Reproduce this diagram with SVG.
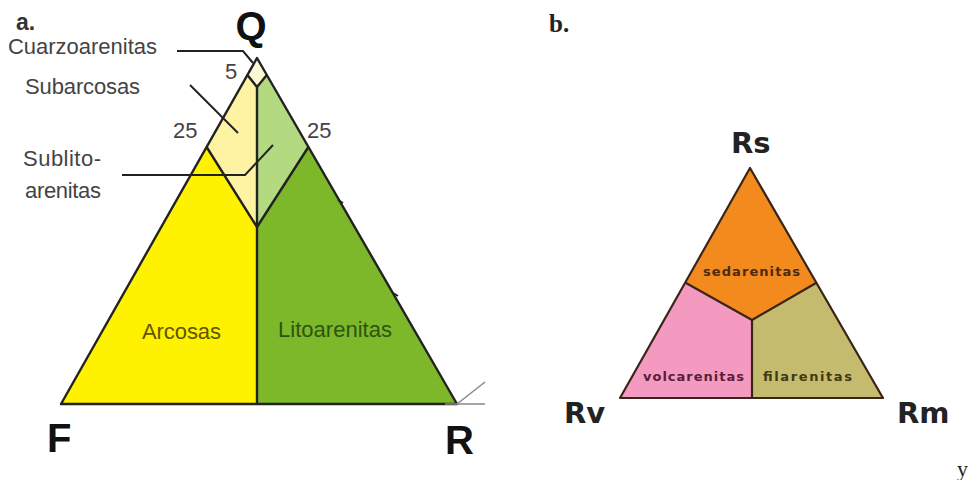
<svg xmlns="http://www.w3.org/2000/svg" width="971" height="480" viewBox="0 0 971 480">
<style>
.edge{stroke:#222;stroke-width:2.4;stroke-linejoin:round;fill:none}
.lbl{font-family:"Liberation Sans",Arial,sans-serif;font-size:22px;fill:#444}
.vert{font-family:"Liberation Sans",Arial,sans-serif;font-size:40px;font-weight:bold;fill:#111}
.lead{stroke:#222;stroke-width:2;fill:none}
.bv{font-family:"DejaVu Sans",sans-serif;font-size:29px;font-weight:bold;fill:#222}
.bin{font-family:"DejaVu Sans",sans-serif;font-size:13px;font-weight:bold;fill:#4a2a10}
.bedge{stroke:#3a2418;stroke-width:2.2;stroke-linejoin:round;fill:none}
</style>
<rect width="971" height="480" fill="#fff"/>

<g id="diagram-a">
  <g id="a-label"><text x="16" y="30" style="font-family:'Liberation Sans',Arial,sans-serif;font-size:23px;font-weight:bold;fill:#333">a.</text></g>
  <g id="arcosas">
    <polygon points="206.6,147 61,404 257,404 257,227" fill="#fff200"/>
    <text class="lbl" x="142" y="339" style="fill:#5f5500" textLength="79">Arcosas</text>
  </g>
  <g id="litoarenitas">
    <polygon points="308.4,147 457,404 257,404 257,227" fill="#7cb82a"/>
    <text class="lbl" x="278" y="337" style="fill:#2d5410" textLength="114">Litoarenitas</text>
  </g>
  <g id="subarcosas">
    <polygon points="247.4,75 206.6,147 257,227 257,87" fill="#fdf3a3"/>
    <text class="lbl" x="25" y="94" textLength="115">Subarcosas</text>
  </g>
  <g id="sublitoarenitas">
    <polygon points="266.8,75 308.4,147 257,227 257,87" fill="#b3da80"/>
    <text class="lbl" x="23" y="166" textLength="78">Sublito-</text>
    <text class="lbl" x="25" y="198" textLength="76">arenitas</text>
  </g>
  <g id="cuarzoarenitas">
    <polygon points="257,58 247.4,75 257,87 266.8,75" fill="#fcf8d4"/>
    <text class="lbl" x="8" y="54" textLength="149">Cuarzoarenitas</text>
  </g>
  <g id="a-lines">
    <polygon class="edge" points="61,404 257,58 457,404"/>
    <polyline class="edge" points="247.4,75 257,87 266.8,75"/>
    <polyline class="edge" points="206.6,147 257,227 308.4,147"/>
    <line class="edge" x1="257" y1="87" x2="257" y2="404"/>
    <polyline class="lead" points="445,404 485,404" style="stroke:#888;stroke-width:1.5"/>
    <line x1="457" y1="404" x2="485" y2="382" style="stroke:#888;stroke-width:1.5"/>
    <line x1="338" y1="200" x2="343" y2="203" class="lead"/>
    <line x1="393" y1="293" x2="398" y2="296" class="lead"/>
  </g>
  <g id="leaders">
    <polyline class="lead" points="177,51 243,51 253,63"/>
    <line class="lead" x1="190" y1="85" x2="238" y2="133"/>
    <polyline class="lead" points="122,175 245,175 273,145"/>
  </g>
  <g id="ticks-text">
    <text class="lbl" x="225" y="79">5</text>
    <text class="lbl" x="173" y="138">25</text>
    <text class="lbl" x="307" y="138">25</text>
  </g>
  <g id="vertex-Q"><text class="vert" x="251" y="40" text-anchor="middle">Q</text></g>
  <g id="vertex-F"><text class="vert" x="47" y="452">F</text></g>
  <g id="vertex-R"><text class="vert" x="445" y="454">R</text></g>
</g>

<g id="diagram-b">
  <g id="b-label"><text x="549" y="32" style="font-family:'Liberation Serif','Times New Roman',serif;font-size:25px;font-weight:bold;fill:#222">b.</text></g>
  <g id="sedarenitas">
    <polygon points="750,168 686,283 752,320 816,283" fill="#f28a1e"/>
    <text class="bin" x="703" y="276" textLength="97">sedarenitas</text>
  </g>
  <g id="volcarenitas">
    <polygon points="686,283 620,398 752,398 752,320" fill="#f49ac0"/>
    <text class="bin" x="643" y="381" textLength="101" style="fill:#5a1e3a">volcarenitas</text>
  </g>
  <g id="filarenitas">
    <polygon points="816,283 883,398 752,398 752,320" fill="#c4bb6e"/>
    <text class="bin" x="763" y="381" textLength="89" style="fill:#3e3a14">filarenitas</text>
  </g>
  <g id="b-lines">
    <polygon class="bedge" points="620,398 750,168 883,398"/>
    <polyline class="bedge" points="686,283 752,320 816,283"/>
    <line class="bedge" x1="752" y1="320" x2="752" y2="398"/>
  </g>
  <g id="vertex-Rs"><text class="bv" x="731" y="153">Rs</text></g>
  <g id="vertex-Rv"><text class="bv" x="564" y="423">Rv</text></g>
  <g id="vertex-Rm"><text class="bv" x="897" y="423">Rm</text></g>
  <text x="957" y="476" style="font-family:'Liberation Serif','Times New Roman',serif;font-size:22px;fill:#222">y</text>
</g>
</svg>
